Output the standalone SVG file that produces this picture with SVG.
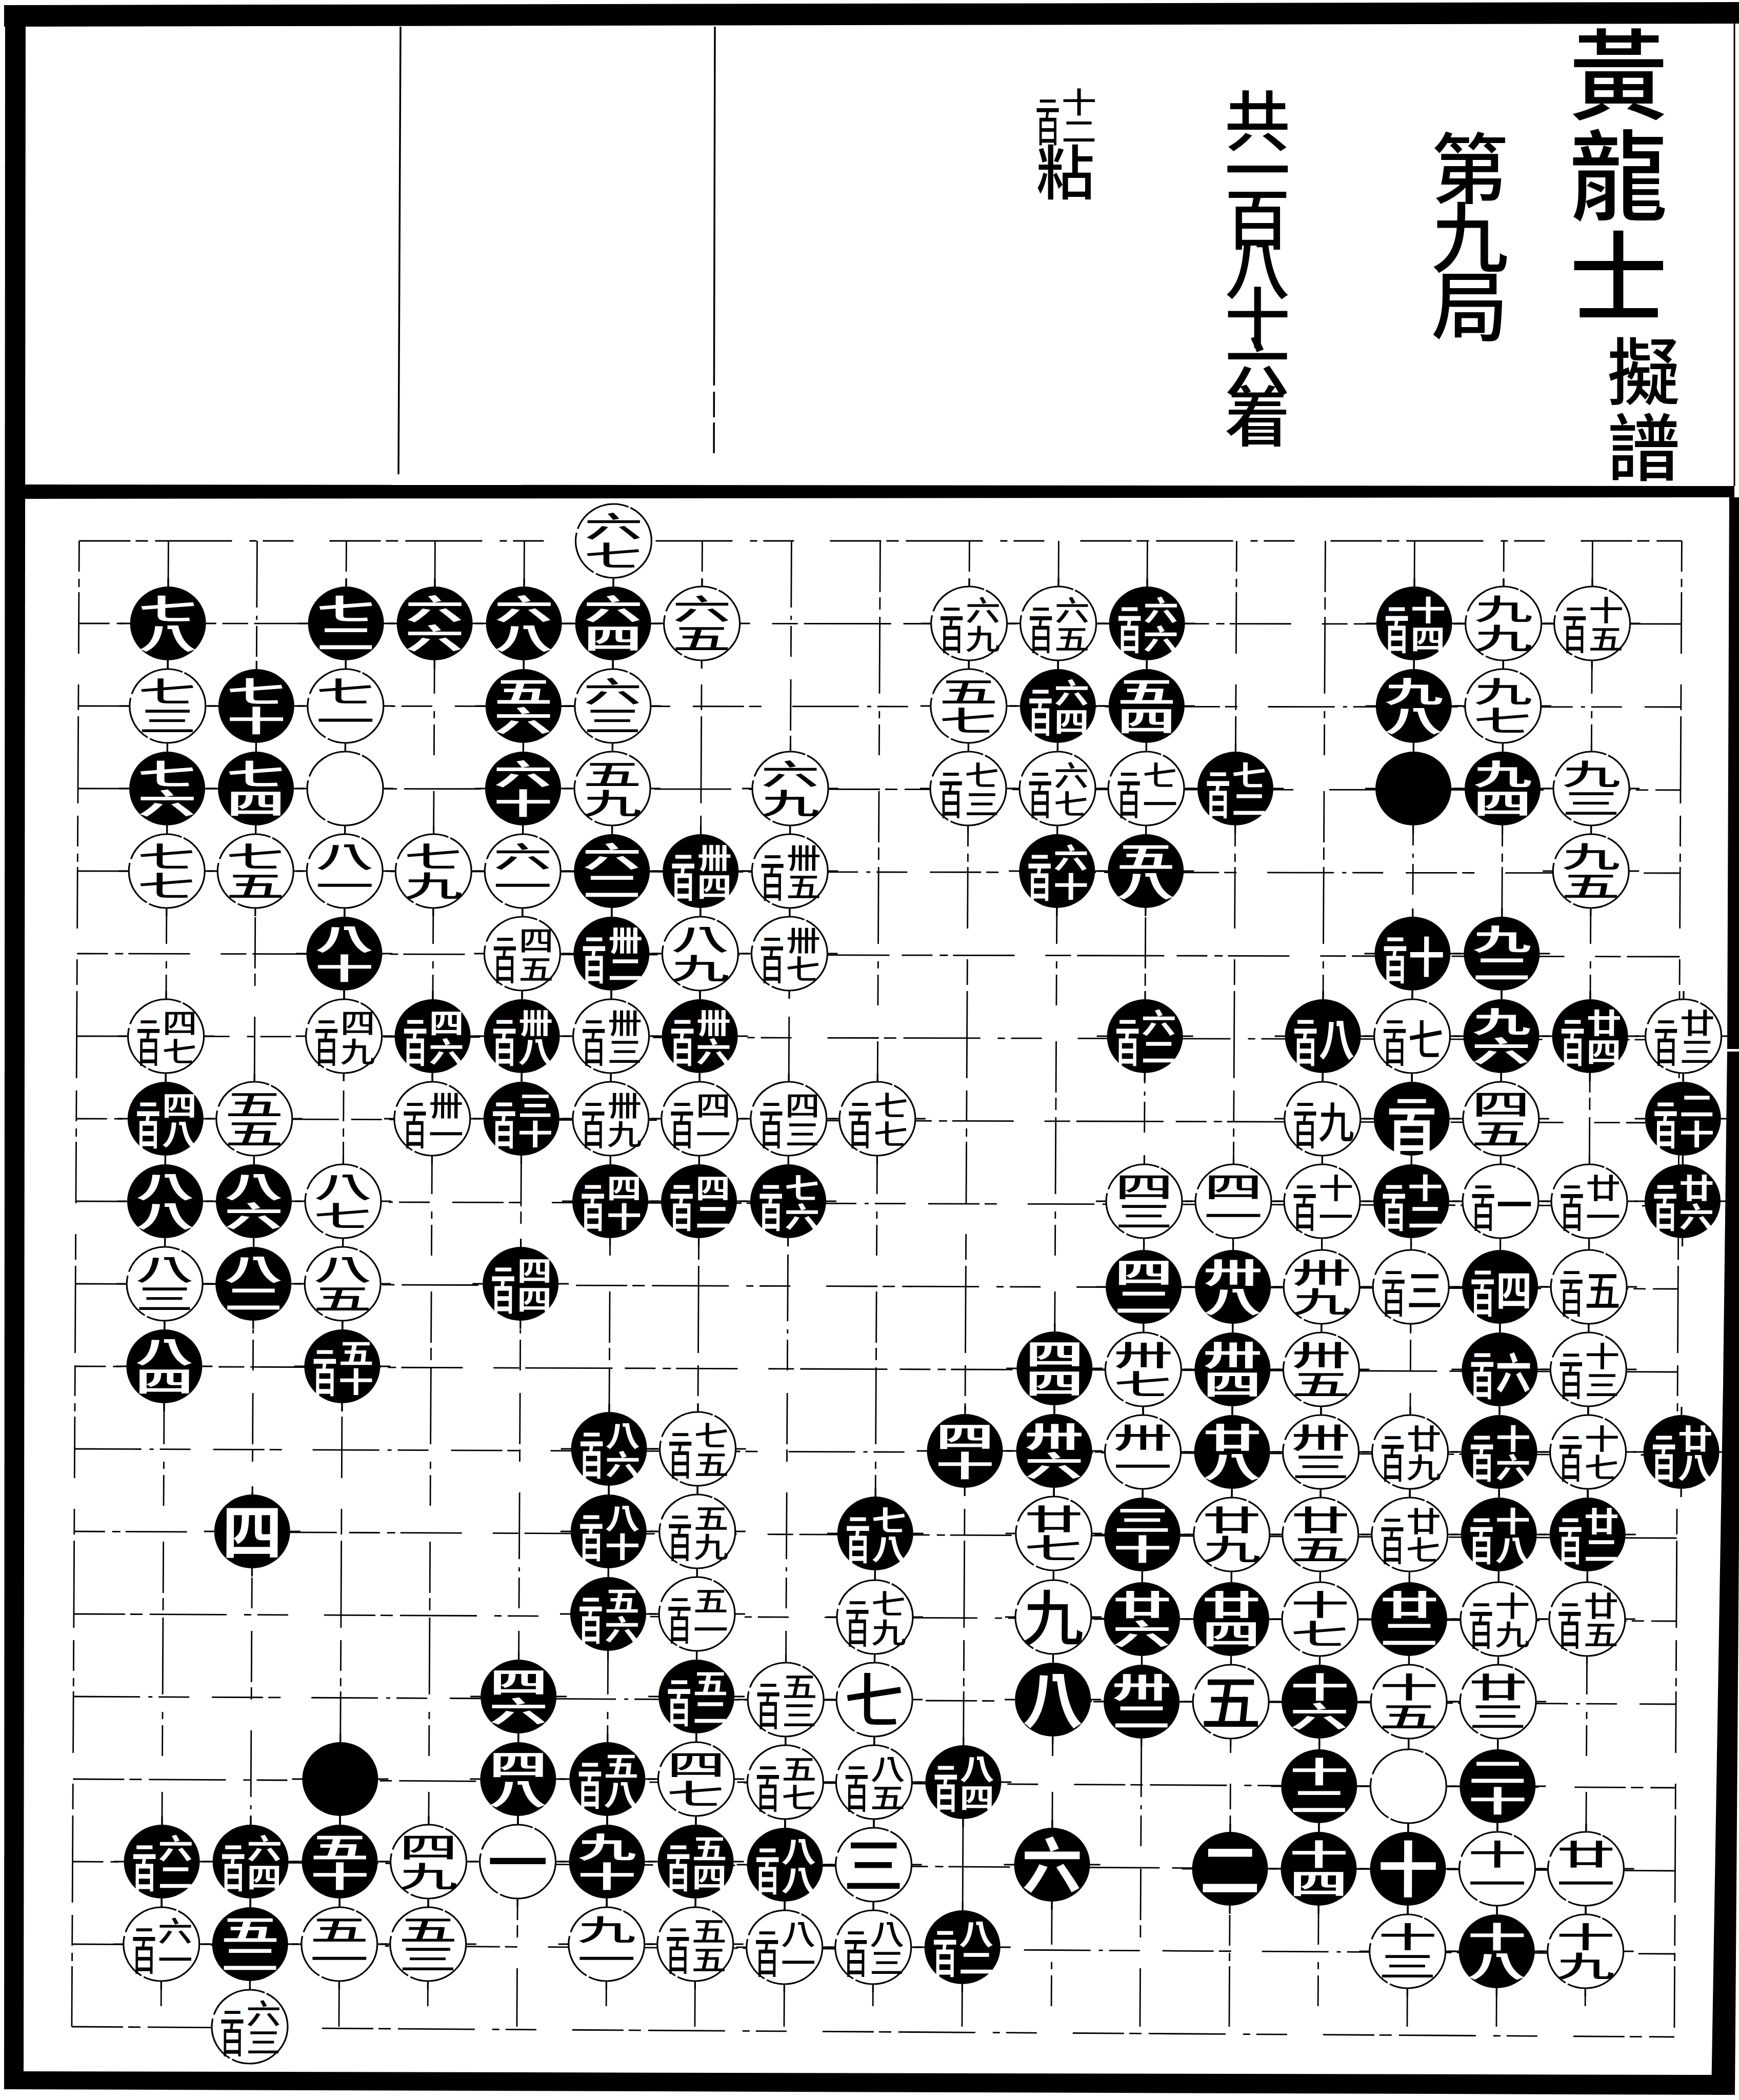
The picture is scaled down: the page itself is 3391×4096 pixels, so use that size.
<svg xmlns="http://www.w3.org/2000/svg" width="3391" height="4096" viewBox="0 0 3391 4096">
<style>
text{font-family:"Noto Sans CJK TC","Noto Sans CJK SC",sans-serif;text-anchor:middle}
.b text{fill:#fff;font-weight:700}
.w text{fill:#000;font-weight:500}
.v{writing-mode:vertical-rl;font-size:114px;transform:scale(1,.5)}
.L{writing-mode:vertical-rl;font-size:82px;transform:translate(-34px,3px) scale(.6,1)}
.L tspan{font-size:56px;letter-spacing:-22px}
.R{writing-mode:vertical-rl;font-size:68px;transform:translate(27px,2px) scale(1,.82)}
.H{writing-mode:vertical-rl;font-size:100px;transform:translate(0px,4px)}
.H tspan{font-size:60px;letter-spacing:-24px}
.o{font-size:70px;transform:translate(27px,38px) scale(1,1.2)}
.u{font-size:118px;transform:translate(0px,45px)}
#connectors path{fill:none;stroke:#000;stroke-width:2.8}
.d1{stroke-dasharray:100 10 24 14 150 34 14 12 60 70}
.d2{stroke-dasharray:60 14 16 10 120 60 50 12 170 24}
.d3{stroke-dasharray:130 16 8 12 60 44 100 10 24 60}
.tt{fill:#000;font-weight:500;writing-mode:vertical-rl}
.we{fill:#fff;stroke:#000;stroke-width:3.2;stroke-dasharray:150 5 90 8 120 4}
.tk{stroke:#000;stroke-width:3.2;fill:none}
</style>
<defs>
<ellipse id="W0" class="we" rx="74" ry="72"/>
<ellipse id="B0" rx="74" ry="72"/>
<g id="W"><path class="tk" d="M-94 0H94M0-88V88"/><use href="#W0"/></g>
<g id="B"><path class="tk" d="M-94 0H94M0-88V88"/><use href="#B0"/></g>
</defs>
<rect width="3391" height="4096" fill="#fff"/>
<g id="frame">
<path d="M8 10L3391 4V46L8 52Z"/>
<path d="M10 10H50L46 4072H8Z"/>
<path d="M46 945L3382 948V970L46 973Z"/>
<path d="M8 4040L3340 4047H3383V4086L8 4075Z"/>
<path d="M3372 970H3391V3000L3383 4086H3337L3355 3000L3360 2700L3368 2050Z"/>
<rect x="3366" y="2046" width="25" height="5" fill="#fff"/>
<path d="M3382 46V948" stroke="#000" stroke-width="3"/>
<path d="M781 52L777 925" stroke="#000" stroke-width="3.5" fill="none"/>
<path d="M1394 52L1392 925" stroke="#000" stroke-width="3.5" stroke-dasharray="700 12 50 10 60" fill="none"/>
</g>
<g id="title">
<text class="tt" font-size="192" letter-spacing="5" x="3156" y="345">黃龍士</text>
<text class="tt" font-size="142" letter-spacing="6" x="3205" y="801">擬譜</text>
<text class="tt" font-size="150" letter-spacing="-16" x="2866" y="454">第九局</text>
<text class="tt" font-size="128" letter-spacing="-32" x="2452" y="507">共一百八十六着</text>
<g class="w" transform="translate(2077,225)"><text class="L"><tspan>一</tspan>百</text><text class="R">十二</text></g>
<text class="tt" font-size="115" x="2077" y="335">粘</text>
</g>
<g id="board" transform="matrix(1 0 -.005 1 159.7 0)">
<g id="connectors">
<path class="d1" d="M0 1055H3125"/>
<path class="d2" d="M0 1216L3125 1217"/>
<path class="d3" d="M0 1377L3125 1379"/>
<path class="d1" d="M0 1538L3125 1541"/>
<path class="d3" d="M0 1699L3125 1703"/>
<path class="d2" d="M0 1860L3125 1866"/>
<path class="d1" d="M0 2021L3125 2028"/>
<path class="d2" d="M0 2182L3125 2190"/>
<path class="d3" d="M0 2343L3125 2352"/>
<path class="d1" d="M0 2504L3125 2514"/>
<path class="d2" d="M0 2665L3125 2676"/>
<path class="d3" d="M0 2826L3125 2838"/>
<path class="d2" d="M0 2987L3125 3000"/>
<path class="d1" d="M0 3148L3125 3162"/>
<path class="d3" d="M0 3309L3125 3324"/>
<path class="d1" d="M0 3470L3125 3487"/>
<path class="d2" d="M0 3631L3125 3649"/>
<path class="d3" d="M0 3792L3125 3811"/>
<path class="d1" d="M0 3953L3125 3973"/>
<path class="d2" d="M0 1055V3953"/>
<path class="d1" d="M174 1055V3953"/>
<path class="d3" d="M347 1055V3953"/>
<path class="d2" d="M521 1055V3953"/>
<path class="d1" d="M694 1055V3953"/>
<path class="d3" d="M868 1055V3953"/>
<path class="d1" d="M1042 1055V3953"/>
<path class="d2" d="M1215 1055V3953"/>
<path class="d3" d="M1389 1055V3953"/>
<path class="d1" d="M1562 1055V3953"/>
<path class="d2" d="M1736 1055V3953"/>
<path class="d1" d="M1910 1055V3953"/>
<path class="d3" d="M2083 1055V3953"/>
<path class="d2" d="M2257 1055V3953"/>
<path class="d1" d="M2430 1055V3953"/>
<path class="d3" d="M2604 1055V3953"/>
<path class="d2" d="M2778 1055V3953"/>
<path class="d1" d="M2951 1055V3953"/>
<path class="d2" d="M3125 1055V3973"/>
</g>
<g id="n6-0" class="w" transform="translate(1042,1055)"><use href="#W0"/><text class="v">六七</text></g>

<g id="n1-1" class="b" transform="translate(174,1216)"><use href="#B"/><text class="v">七八</text></g>
<g id="n3-1" class="b" transform="translate(521,1216)"><use href="#B"/><text class="v">七二</text></g>
<g id="n4-1" class="b" transform="translate(694,1216)"><use href="#B"/><text class="v">六六</text></g>
<g id="n5-1" class="b" transform="translate(868,1216)"><use href="#B"/><text class="v">六八</text></g>
<g id="n6-1" class="b" transform="translate(1042,1216)"><use href="#B"/><text class="v">六四</text></g>
<g id="n7-1" class="w" transform="translate(1215,1216)"><use href="#W"/><text class="v">六五</text></g>
<g id="n10-1" class="w" transform="translate(1736,1216)"><use href="#W"/><text class="L"><tspan>一</tspan>百</text><text class="R">六九</text></g>
<g id="n11-1" class="w" transform="translate(1910,1216)"><use href="#W"/><text class="L"><tspan>一</tspan>百</text><text class="R">六五</text></g>
<g id="n12-1" class="b" transform="translate(2083,1216)"><use href="#B"/><text class="L"><tspan>一</tspan>百</text><text class="R">六六</text></g>
<g id="n15-1" class="b" transform="translate(2604,1216)"><use href="#B"/><text class="L"><tspan>一</tspan>百</text><text class="R">十四</text></g>
<g id="n16-1" class="w" transform="translate(2778,1216)"><use href="#W"/><text class="v">九九</text></g>
<g id="n17-1" class="w" transform="translate(2951,1216)"><use href="#W"/><text class="L"><tspan>一</tspan>百</text><text class="R">十五</text></g>

<g id="n1-2" class="w" transform="translate(174,1377)"><use href="#W"/><text class="v">七三</text></g>
<g id="n2-2" class="b" transform="translate(347,1377)"><use href="#B"/><text class="v">七十</text></g>
<g id="n3-2" class="w" transform="translate(521,1377)"><use href="#W"/><text class="v">七一</text></g>
<g id="n5-2" class="b" transform="translate(868,1377)"><use href="#B"/><text class="v">五六</text></g>
<g id="n6-2" class="w" transform="translate(1042,1377)"><use href="#W"/><text class="v">六三</text></g>
<g id="n10-2" class="w" transform="translate(1736,1377)"><use href="#W"/><text class="v">五七</text></g>
<g id="n11-2" class="b" transform="translate(1910,1377)"><use href="#B"/><text class="L"><tspan>一</tspan>百</text><text class="R">六四</text></g>
<g id="n12-2" class="b" transform="translate(2083,1377)"><use href="#B"/><text class="v">五四</text></g>
<g id="n15-2" class="b" transform="translate(2604,1377)"><use href="#B"/><text class="v">九八</text></g>
<g id="n16-2" class="w" transform="translate(2778,1377)"><use href="#W"/><text class="v">九七</text></g>

<g id="n1-3" class="b" transform="translate(174,1538)"><use href="#B"/><text class="v">七六</text></g>
<g id="n2-3" class="b" transform="translate(347,1538)"><use href="#B"/><text class="v">七四</text></g>
<g id="n3-3" class="w" transform="translate(521,1538)"><use href="#W"/></g>
<g id="n5-3" class="b" transform="translate(868,1538)"><use href="#B"/><text class="v">六十</text></g>
<g id="n6-3" class="w" transform="translate(1042,1538)"><use href="#W"/><text class="v">五九</text></g>
<g id="n8-3" class="w" transform="translate(1389,1538)"><use href="#W"/><text class="v">六九</text></g>
<g id="n10-3" class="w" transform="translate(1736,1538)"><use href="#W"/><text class="L"><tspan>一</tspan>百</text><text class="R">七三</text></g>
<g id="n11-3" class="w" transform="translate(1910,1538)"><use href="#W"/><text class="L"><tspan>一</tspan>百</text><text class="R">六七</text></g>
<g id="n12-3" class="w" transform="translate(2083,1538)"><use href="#W"/><text class="L"><tspan>一</tspan>百</text><text class="R">七一</text></g>
<g id="n13-3" class="b" transform="translate(2257,1538)"><use href="#B"/><text class="L"><tspan>一</tspan>百</text><text class="R">七二</text></g>
<g id="n15-3" class="b" transform="translate(2604,1538)"><use href="#B"/></g>
<g id="n16-3" class="b" transform="translate(2778,1538)"><use href="#B"/><text class="v">九四</text></g>
<g id="n17-3" class="w" transform="translate(2951,1538)"><use href="#W"/><text class="v">九三</text></g>

<g id="n1-4" class="w" transform="translate(174,1699)"><use href="#W"/><text class="v">七七</text></g>
<g id="n2-4" class="w" transform="translate(347,1699)"><use href="#W"/><text class="v">七五</text></g>
<g id="n3-4" class="w" transform="translate(521,1699)"><use href="#W"/><text class="v">八一</text></g>
<g id="n4-4" class="w" transform="translate(694,1699)"><use href="#W"/><text class="v">七九</text></g>
<g id="n5-4" class="w" transform="translate(868,1699)"><use href="#W"/><text class="v">六一</text></g>
<g id="n6-4" class="b" transform="translate(1042,1699)"><use href="#B"/><text class="v">六二</text></g>
<g id="n7-4" class="b" transform="translate(1215,1699)"><use href="#B"/><text class="L"><tspan>一</tspan>百</text><text class="R">卌四</text></g>
<g id="n8-4" class="w" transform="translate(1389,1699)"><use href="#W"/><text class="L"><tspan>一</tspan>百</text><text class="R">卌五</text></g>
<g id="n11-4" class="b" transform="translate(1910,1699)"><use href="#B"/><text class="L"><tspan>一</tspan>百</text><text class="R">六十</text></g>
<g id="n12-4" class="b" transform="translate(2083,1699)"><use href="#B"/><text class="v">五八</text></g>
<g id="n17-4" class="w" transform="translate(2951,1699)"><use href="#W"/><text class="v">九五</text></g>

<g id="n3-5" class="b" transform="translate(521,1860)"><use href="#B"/><text class="v">八十</text></g>
<g id="n5-5" class="w" transform="translate(868,1860)"><use href="#W"/><text class="L"><tspan>一</tspan>百</text><text class="R">四五</text></g>
<g id="n6-5" class="b" transform="translate(1042,1860)"><use href="#B"/><text class="L"><tspan>一</tspan>百</text><text class="R">卌二</text></g>
<g id="n7-5" class="w" transform="translate(1215,1860)"><use href="#W"/><text class="v">八九</text></g>
<g id="n8-5" class="w" transform="translate(1389,1860)"><use href="#W"/><text class="L"><tspan>一</tspan>百</text><text class="R">卌七</text></g>
<g id="n15-5" class="b" transform="translate(2604,1860)"><use href="#B"/><text class="L"><tspan>一</tspan>百</text><text class="o">十</text></g>
<g id="n16-5" class="b" transform="translate(2778,1860)"><use href="#B"/><text class="v">九二</text></g>

<g id="n1-6" class="w" transform="translate(174,2021)"><use href="#W"/><text class="L"><tspan>一</tspan>百</text><text class="R">四七</text></g>
<g id="n3-6" class="w" transform="translate(521,2021)"><use href="#W"/><text class="L"><tspan>一</tspan>百</text><text class="R">四九</text></g>
<g id="n4-6" class="b" transform="translate(694,2021)"><use href="#B"/><text class="L"><tspan>一</tspan>百</text><text class="R">四六</text></g>
<g id="n5-6" class="b" transform="translate(868,2021)"><use href="#B"/><text class="L"><tspan>一</tspan>百</text><text class="R">卌八</text></g>
<g id="n6-6" class="w" transform="translate(1042,2021)"><use href="#W"/><text class="L"><tspan>一</tspan>百</text><text class="R">卌三</text></g>
<g id="n7-6" class="b" transform="translate(1215,2021)"><use href="#B"/><text class="L"><tspan>一</tspan>百</text><text class="R">卌六</text></g>
<g id="n12-6" class="b" transform="translate(2083,2021)"><use href="#B"/><text class="L"><tspan>一</tspan>百</text><text class="R">六二</text></g>
<g id="n14-6" class="b" transform="translate(2430,2021)"><use href="#B"/><text class="L"><tspan>一</tspan>百</text><text class="o">八</text></g>
<g id="n15-6" class="w" transform="translate(2604,2021)"><use href="#W"/><text class="L"><tspan>一</tspan>百</text><text class="o">七</text></g>
<g id="n16-6" class="b" transform="translate(2778,2021)"><use href="#B"/><text class="v">九六</text></g>
<g id="n17-6" class="b" transform="translate(2951,2021)"><use href="#B"/><text class="L"><tspan>一</tspan>百</text><text class="R">廿四</text></g>
<g id="n18-6" class="w" transform="translate(3133,2021)"><use href="#W"/><text class="L"><tspan>一</tspan>百</text><text class="R">廿三</text></g>

<g id="n1-7" class="b" transform="translate(174,2182)"><use href="#B"/><text class="L"><tspan>一</tspan>百</text><text class="R">四八</text></g>
<g id="n2-7" class="w" transform="translate(347,2182)"><use href="#W"/><text class="v">五五</text></g>
<g id="n4-7" class="w" transform="translate(694,2182)"><use href="#W"/><text class="L"><tspan>一</tspan>百</text><text class="R">卌一</text></g>
<g id="n5-7" class="b" transform="translate(868,2182)"><use href="#B"/><text class="L"><tspan>一</tspan>百</text><text class="R">三十</text></g>
<g id="n6-7" class="w" transform="translate(1042,2182)"><use href="#W"/><text class="L"><tspan>一</tspan>百</text><text class="R">卌九</text></g>
<g id="n7-7" class="w" transform="translate(1215,2182)"><use href="#W"/><text class="L"><tspan>一</tspan>百</text><text class="R">四一</text></g>
<g id="n8-7" class="w" transform="translate(1389,2182)"><use href="#W"/><text class="L"><tspan>一</tspan>百</text><text class="R">四三</text></g>
<g id="n9-7" class="w" transform="translate(1562,2182)"><use href="#W"/><text class="L"><tspan>一</tspan>百</text><text class="R">七七</text></g>
<g id="n14-7" class="w" transform="translate(2430,2182)"><use href="#W"/><text class="L"><tspan>一</tspan>百</text><text class="o">九</text></g>
<g id="n15-7" class="b" transform="translate(2604,2182)"><use href="#B"/><text class="H"><tspan>一</tspan>百</text></g>
<g id="n16-7" class="w" transform="translate(2778,2182)"><use href="#W"/><text class="v">四五</text></g>
<g id="n18-7" class="b" transform="translate(3133,2182)"><use href="#B"/><text class="L"><tspan>一</tspan>百</text><text class="R">二十</text></g>

<g id="n1-8" class="b" transform="translate(174,2343)"><use href="#B"/><text class="v">八八</text></g>
<g id="n2-8" class="b" transform="translate(347,2343)"><use href="#B"/><text class="v">八六</text></g>
<g id="n3-8" class="w" transform="translate(521,2343)"><use href="#W"/><text class="v">八七</text></g>
<g id="n6-8" class="b" transform="translate(1042,2343)"><use href="#B"/><text class="L"><tspan>一</tspan>百</text><text class="R">四十</text></g>
<g id="n7-8" class="b" transform="translate(1215,2343)"><use href="#B"/><text class="L"><tspan>一</tspan>百</text><text class="R">四二</text></g>
<g id="n8-8" class="b" transform="translate(1389,2343)"><use href="#B"/><text class="L"><tspan>一</tspan>百</text><text class="R">七六</text></g>
<g id="n12-8" class="w" transform="translate(2083,2343)"><use href="#W"/><text class="v">四三</text></g>
<g id="n13-8" class="w" transform="translate(2257,2343)"><use href="#W"/><text class="v">四一</text></g>
<g id="n14-8" class="w" transform="translate(2430,2343)"><use href="#W"/><text class="L"><tspan>一</tspan>百</text><text class="R">十一</text></g>
<g id="n15-8" class="b" transform="translate(2604,2343)"><use href="#B"/><text class="L"><tspan>一</tspan>百</text><text class="R">十二</text></g>
<g id="n16-8" class="w" transform="translate(2778,2343)"><use href="#W"/><text class="L"><tspan>一</tspan>百</text><text class="o">一</text></g>
<g id="n17-8" class="w" transform="translate(2951,2343)"><use href="#W"/><text class="L"><tspan>一</tspan>百</text><text class="R">廿一</text></g>
<g id="n18-8" class="b" transform="translate(3133,2343)"><use href="#B"/><text class="L"><tspan>一</tspan>百</text><text class="R">廿六</text></g>

<g id="n1-9" class="w" transform="translate(174,2504)"><use href="#W"/><text class="v">八三</text></g>
<g id="n2-9" class="b" transform="translate(347,2504)"><use href="#B"/><text class="v">八二</text></g>
<g id="n3-9" class="w" transform="translate(521,2504)"><use href="#W"/><text class="v">八五</text></g>
<g id="n5-9" class="b" transform="translate(868,2504)"><use href="#B"/><text class="L"><tspan>一</tspan>百</text><text class="R">四四</text></g>
<g id="n12-9" class="b" transform="translate(2083,2510)"><use href="#B"/><text class="v">四二</text></g>
<g id="n13-9" class="b" transform="translate(2257,2510)"><use href="#B"/><text class="v">卅八</text></g>
<g id="n14-9" class="w" transform="translate(2430,2510)"><use href="#W"/><text class="v">卅九</text></g>
<g id="n15-9" class="w" transform="translate(2604,2510)"><use href="#W"/><text class="L"><tspan>一</tspan>百</text><text class="o">三</text></g>
<g id="n16-9" class="b" transform="translate(2778,2510)"><use href="#B"/><text class="L"><tspan>一</tspan>百</text><text class="o">四</text></g>
<g id="n17-9" class="w" transform="translate(2951,2510)"><use href="#W"/><text class="L"><tspan>一</tspan>百</text><text class="o">五</text></g>

<g id="n1-10" class="b" transform="translate(174,2665)"><use href="#B"/><text class="v">八四</text></g>
<g id="n3-10" class="b" transform="translate(521,2665)"><use href="#B"/><text class="L"><tspan>一</tspan>百</text><text class="R">五十</text></g>
<g id="n11-10" class="b" transform="translate(1910,2669)"><use href="#B"/><text class="v">四四</text></g>
<g id="n12-10" class="w" transform="translate(2083,2671)"><use href="#W"/><text class="v">卅七</text></g>
<g id="n13-10" class="b" transform="translate(2257,2671)"><use href="#B"/><text class="v">卅四</text></g>
<g id="n14-10" class="w" transform="translate(2430,2671)"><use href="#W"/><text class="v">卅五</text></g>
<g id="n16-10" class="b" transform="translate(2778,2671)"><use href="#B"/><text class="L"><tspan>一</tspan>百</text><text class="o">六</text></g>
<g id="n17-10" class="w" transform="translate(2951,2671)"><use href="#W"/><text class="L"><tspan>一</tspan>百</text><text class="R">十三</text></g>

<g id="n6-11" class="b" transform="translate(1042,2826)"><use href="#B"/><text class="L"><tspan>一</tspan>百</text><text class="R">八六</text></g>
<g id="n7-11" class="w" transform="translate(1215,2826)"><use href="#W"/><text class="L"><tspan>一</tspan>百</text><text class="R">七五</text></g>
<g id="n10-11" class="b" transform="translate(1736,2830)"><use href="#B"/><text class="v">四十</text></g>
<g id="n11-11" class="b" transform="translate(1910,2830)"><use href="#B"/><text class="v">卅六</text></g>
<g id="n12-11" class="w" transform="translate(2083,2832)"><use href="#W"/><text class="v">卅一</text></g>
<g id="n13-11" class="b" transform="translate(2257,2832)"><use href="#B"/><text class="v">廿八</text></g>
<g id="n14-11" class="w" transform="translate(2430,2832)"><use href="#W"/><text class="v">卅三</text></g>
<g id="n15-11" class="w" transform="translate(2604,2832)"><use href="#W"/><text class="L"><tspan>一</tspan>百</text><text class="R">廿九</text></g>
<g id="n16-11" class="b" transform="translate(2778,2832)"><use href="#B"/><text class="L"><tspan>一</tspan>百</text><text class="R">十六</text></g>
<g id="n17-11" class="w" transform="translate(2951,2832)"><use href="#W"/><text class="L"><tspan>一</tspan>百</text><text class="R">十七</text></g>
<g id="n18-11" class="b" transform="translate(3133,2832)"><use href="#B"/><text class="L"><tspan>一</tspan>百</text><text class="R">廿八</text></g>

<g id="n2-12" class="b" transform="translate(347,2987)"><use href="#B"/><text class="u">四</text></g>
<g id="n6-12" class="b" transform="translate(1042,2987)"><use href="#B"/><text class="L"><tspan>一</tspan>百</text><text class="R">八十</text></g>
<g id="n7-12" class="w" transform="translate(1215,2987)"><use href="#W"/><text class="L"><tspan>一</tspan>百</text><text class="R">五九</text></g>
<g id="n9-12" class="b" transform="translate(1562,2991)"><use href="#B"/><text class="L"><tspan>一</tspan>百</text><text class="R">七八</text></g>
<g id="n11-12" class="w" transform="translate(1910,2991)"><use href="#W"/><text class="v">廿七</text></g>
<g id="n12-12" class="b" transform="translate(2083,2993)"><use href="#B"/><text class="v">三十</text></g>
<g id="n13-12" class="w" transform="translate(2257,2993)"><use href="#W"/><text class="v">廿九</text></g>
<g id="n14-12" class="w" transform="translate(2430,2993)"><use href="#W"/><text class="v">廿五</text></g>
<g id="n15-12" class="w" transform="translate(2604,2993)"><use href="#W"/><text class="L"><tspan>一</tspan>百</text><text class="R">廿七</text></g>
<g id="n16-12" class="b" transform="translate(2778,2993)"><use href="#B"/><text class="L"><tspan>一</tspan>百</text><text class="R">十八</text></g>
<g id="n17-12" class="b" transform="translate(2951,2993)"><use href="#B"/><text class="L"><tspan>一</tspan>百</text><text class="R">廿二</text></g>

<g id="n6-13" class="b" transform="translate(1042,3148)"><use href="#B"/><text class="L"><tspan>一</tspan>百</text><text class="R">五六</text></g>
<g id="n7-13" class="w" transform="translate(1215,3148)"><use href="#W"/><text class="L"><tspan>一</tspan>百</text><text class="R">五一</text></g>
<g id="n9-13" class="w" transform="translate(1562,3154)"><use href="#W"/><text class="L"><tspan>一</tspan>百</text><text class="R">七九</text></g>
<g id="n11-13" class="w" transform="translate(1910,3154)"><use href="#W"/><text class="u">九</text></g>
<g id="n12-13" class="b" transform="translate(2083,3158)"><use href="#B"/><text class="v">廿六</text></g>
<g id="n13-13" class="b" transform="translate(2257,3158)"><use href="#B"/><text class="v">廿四</text></g>
<g id="n14-13" class="w" transform="translate(2430,3158)"><use href="#W"/><text class="v">十七</text></g>
<g id="n15-13" class="b" transform="translate(2604,3158)"><use href="#B"/><text class="v">廿二</text></g>
<g id="n16-13" class="w" transform="translate(2778,3158)"><use href="#W"/><text class="L"><tspan>一</tspan>百</text><text class="R">十九</text></g>
<g id="n17-13" class="w" transform="translate(2951,3158)"><use href="#W"/><text class="L"><tspan>一</tspan>百</text><text class="R">廿五</text></g>

<g id="n5-14" class="b" transform="translate(868,3309)"><use href="#B"/><text class="v">四六</text></g>
<g id="n7-14" class="b" transform="translate(1215,3309)"><use href="#B"/><text class="L"><tspan>一</tspan>百</text><text class="R">五二</text></g>
<g id="n8-14" class="w" transform="translate(1389,3315)"><use href="#W"/><text class="L"><tspan>一</tspan>百</text><text class="R">五三</text></g>
<g id="n9-14" class="w" transform="translate(1562,3315)"><use href="#W"/><text class="u">七</text></g>
<g id="n11-14" class="b" transform="translate(1910,3315)"><use href="#B"/><text class="u">八</text></g>
<g id="n12-14" class="b" transform="translate(2083,3319)"><use href="#B"/><text class="v">卅二</text></g>
<g id="n13-14" class="w" transform="translate(2257,3319)"><use href="#W"/><text class="u">五</text></g>
<g id="n14-14" class="b" transform="translate(2430,3319)"><use href="#B"/><text class="v">十六</text></g>
<g id="n15-14" class="w" transform="translate(2604,3319)"><use href="#W"/><text class="v">十五</text></g>
<g id="n16-14" class="w" transform="translate(2778,3319)"><use href="#W"/><text class="v">廿三</text></g>

<g id="n3-15" class="b" transform="translate(521,3470)"><use href="#B"/></g>
<g id="n5-15" class="b" transform="translate(868,3470)"><use href="#B"/><text class="v">四八</text></g>
<g id="n6-15" class="b" transform="translate(1042,3470)"><use href="#B"/><text class="L"><tspan>一</tspan>百</text><text class="R">五八</text></g>
<g id="n7-15" class="w" transform="translate(1215,3470)"><use href="#W"/><text class="v">四七</text></g>
<g id="n8-15" class="w" transform="translate(1389,3476)"><use href="#W"/><text class="L"><tspan>一</tspan>百</text><text class="R">五七</text></g>
<g id="n9-15" class="w" transform="translate(1562,3476)"><use href="#W"/><text class="L"><tspan>一</tspan>百</text><text class="R">八五</text></g>
<g id="n10-15" class="b" transform="translate(1736,3476)"><use href="#B"/><text class="L"><tspan>一</tspan>百</text><text class="R">八四</text></g>
<g id="n14-15" class="b" transform="translate(2430,3484)"><use href="#B"/><text class="v">十二</text></g>
<g id="n15-15" class="w" transform="translate(2604,3484)"><use href="#W"/></g>
<g id="n16-15" class="b" transform="translate(2778,3484)"><use href="#B"/><text class="v">二十</text></g>

<g id="n1-16" class="b" transform="translate(174,3631)"><use href="#B"/><text class="L"><tspan>一</tspan>百</text><text class="R">六二</text></g>
<g id="n2-16" class="b" transform="translate(347,3631)"><use href="#B"/><text class="L"><tspan>一</tspan>百</text><text class="R">六四</text></g>
<g id="n3-16" class="b" transform="translate(521,3631)"><use href="#B"/><text class="v">五十</text></g>
<g id="n4-16" class="w" transform="translate(694,3631)"><use href="#W"/><text class="v">四九</text></g>
<g id="n5-16" class="w" transform="translate(868,3631)"><use href="#W"/><text class="u">一</text></g>
<g id="n6-16" class="b" transform="translate(1042,3631)"><use href="#B"/><text class="v">九十</text></g>
<g id="n7-16" class="b" transform="translate(1215,3631)"><use href="#B"/><text class="L"><tspan>一</tspan>百</text><text class="R">五四</text></g>
<g id="n8-16" class="b" transform="translate(1389,3637)"><use href="#B"/><text class="L"><tspan>一</tspan>百</text><text class="R">八八</text></g>
<g id="n9-16" class="w" transform="translate(1562,3637)"><use href="#W"/><text class="u">三</text></g>
<g id="n11-16" class="b" transform="translate(1910,3637)"><use href="#B"/><text class="u">六</text></g>
<g id="n13-16" class="b" transform="translate(2257,3645)"><use href="#B"/><text class="u">二</text></g>
<g id="n14-16" class="b" transform="translate(2430,3645)"><use href="#B"/><text class="v">十四</text></g>
<g id="n15-16" class="b" transform="translate(2604,3645)"><use href="#B"/><text class="u">十</text></g>
<g id="n16-16" class="w" transform="translate(2778,3645)"><use href="#W"/><text class="v">十一</text></g>
<g id="n17-16" class="w" transform="translate(2951,3645)"><use href="#W"/><text class="v">廿一</text></g>

<g id="n1-17" class="w" transform="translate(174,3792)"><use href="#W"/><text class="L"><tspan>一</tspan>百</text><text class="R">六一</text></g>
<g id="n2-17" class="b" transform="translate(347,3792)"><use href="#B"/><text class="v">五二</text></g>
<g id="n3-17" class="w" transform="translate(521,3792)"><use href="#W"/><text class="v">五一</text></g>
<g id="n4-17" class="w" transform="translate(694,3792)"><use href="#W"/><text class="v">五三</text></g>
<g id="n6-17" class="w" transform="translate(1042,3792)"><use href="#W"/><text class="v">九一</text></g>
<g id="n7-17" class="w" transform="translate(1215,3792)"><use href="#W"/><text class="L"><tspan>一</tspan>百</text><text class="R">五五</text></g>
<g id="n8-17" class="w" transform="translate(1389,3798)"><use href="#W"/><text class="L"><tspan>一</tspan>百</text><text class="R">八一</text></g>
<g id="n9-17" class="w" transform="translate(1562,3798)"><use href="#W"/><text class="L"><tspan>一</tspan>百</text><text class="R">八三</text></g>
<g id="n10-17" class="b" transform="translate(1736,3798)"><use href="#B"/><text class="L"><tspan>一</tspan>百</text><text class="R">八二</text></g>
<g id="n15-17" class="w" transform="translate(2604,3806)"><use href="#W"/><text class="v">十三</text></g>
<g id="n16-17" class="b" transform="translate(2778,3806)"><use href="#B"/><text class="v">十八</text></g>
<g id="n17-17" class="w" transform="translate(2951,3806)"><use href="#W"/><text class="v">十九</text></g>

<g id="n2-18" class="w" transform="translate(347,3953)"><use href="#W0"/><text class="L"><tspan>一</tspan>百</text><text class="R">六三</text></g>
</g>
</svg>
